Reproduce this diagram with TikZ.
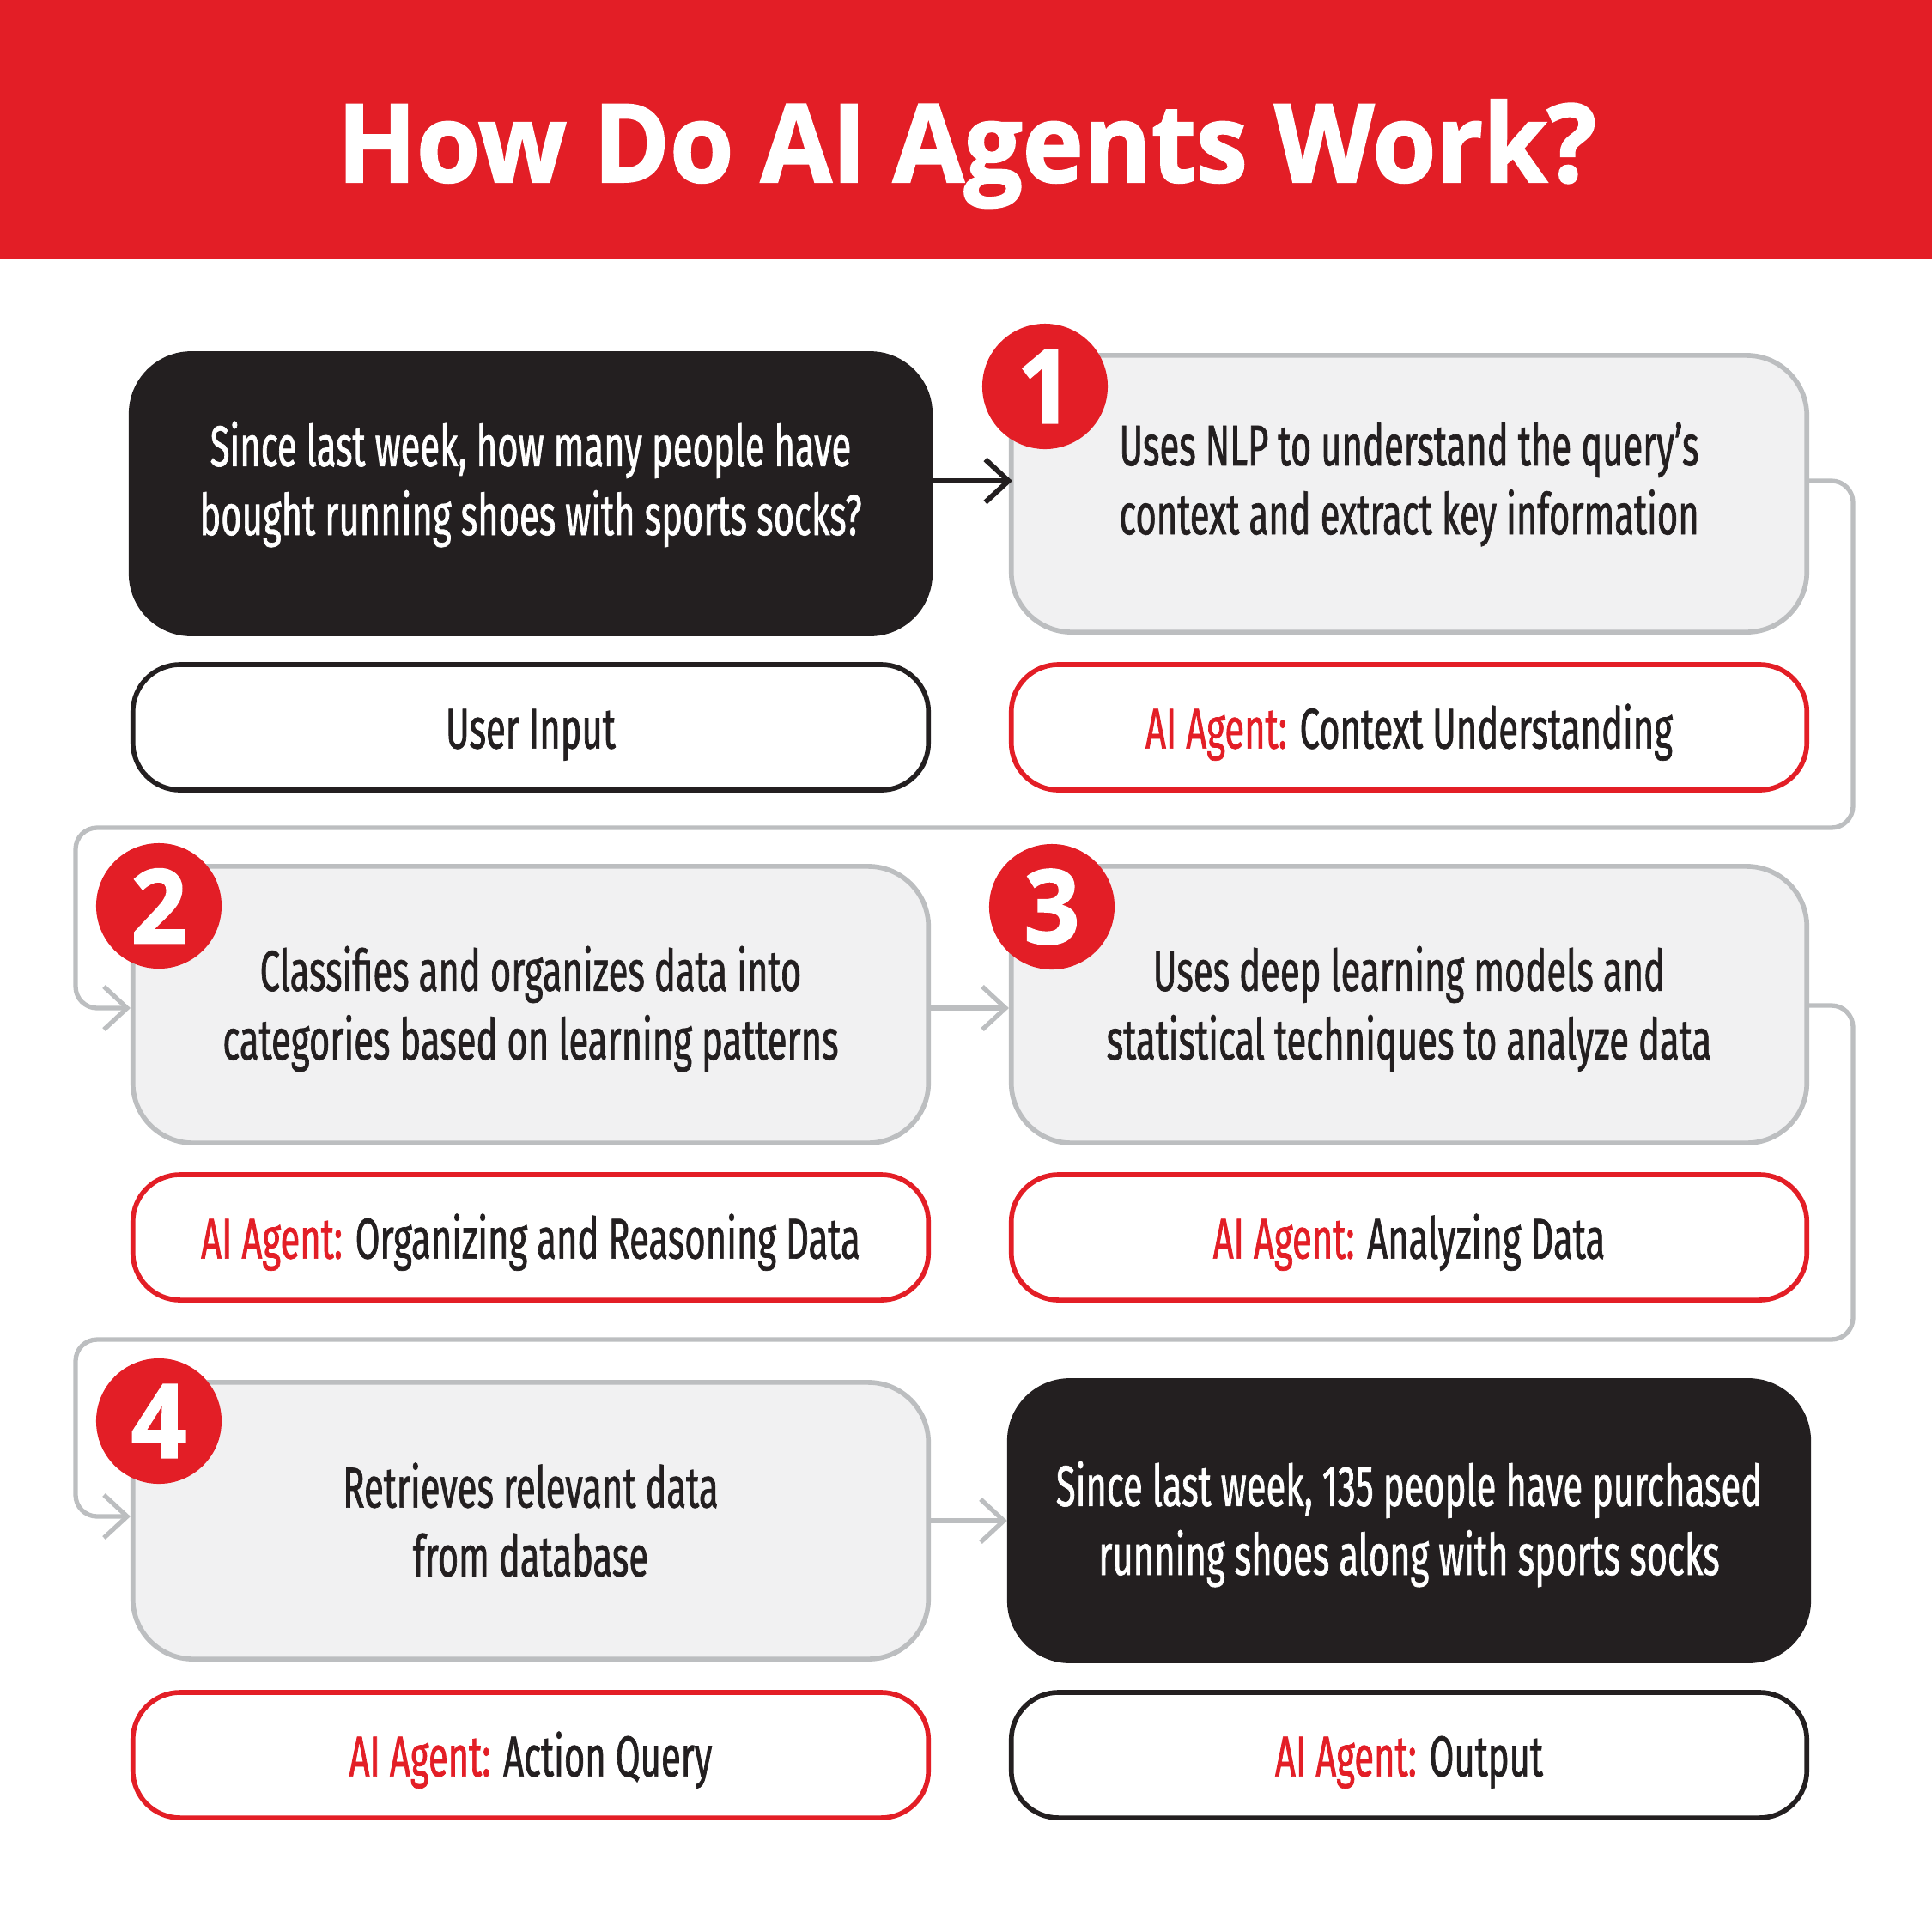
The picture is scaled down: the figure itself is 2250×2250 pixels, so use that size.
\documentclass[tikz,border=0pt]{standalone}
\usepackage{fontspec}
\usetikzlibrary{arrows.meta}
\setmainfont{Open Sans}
\newfontfamily\condfont[FakeStretch=0.625,FakeBold=1.0]{Fira Sans}
\newfontfamily\headfont[FakeStretch=0.95,FakeBold=1.6]{Open Sans Bold}
\definecolor{agentred}{HTML}{E31E26}
\definecolor{agentink}{HTML}{231F20}
\definecolor{agentgray}{HTML}{BCBEC0}
\definecolor{agentpale}{HTML}{F1F1F2}
\tikzset{
	card/.style={minimum width=9.26cm, minimum height=3.22cm, rounded corners=0.7cm, line width=1.6pt},
	stepbox/.style={card, draw=agentgray, fill=agentpale},
	darkbox/.style={card, draw=agentink, fill=agentink, minimum width=9.3cm, minimum height=3.26cm},
	cardtext/.style={align=center, inner sep=0pt, text=agentink, font=\condfont\fontsize{19}{22.8}\selectfont},
	tagbox/.style={card, cardtext, minimum height=1.46cm, rounded corners=0.55cm, fill=white, text height=15pt, text depth=1pt},
	badge/.style={circle, fill=agentred, text=white, minimum size=1.46cm, inner sep=0pt, font=\headfont\fontsize{34}{34}\selectfont},
	flow/.style={line width=1.5pt, agentgray, -{Straight Barb[length=0.27cm, width=0.5cm]}},
	detour/.style={flow, rounded corners=0.25cm},
}
\newcommand{\agenttag}{\textcolor{agentred}{AI Agent:} }

\begin{document}
\begin{tikzpicture}[x=0.01cm, y=-0.01cm]% {{{ AGENTS
	\useasboundingbox (0,0) rectangle (2250,2250);
	\fill[agentred] (0,0) rectangle (2250,302);
	\node[anchor=base, text=white, font=\headfont\fontsize{36}{36}\selectfont] (title) at (1126,212) {How Do AI Agents Work?};

	\node[darkbox] (input) at (618,575) {};
	\node[cardtext, text=white] (inputtext) at (618,564) {Since last week, how many people have\\bought running shoes with sports socks?};
	\node[tagbox, draw=agentink] (inputtag) at (618,847) {User Input};
	\node[stepbox] (context) at (1641,575) {};
	\node[cardtext] (contexttext) at (1641,564) {Uses NLP to understand the query’s\\context and extract key information};
	\node[tagbox, draw=agentred] (contexttag) at (1641,847) {\agenttag Context Understanding};

	\node[stepbox] (organize) at (618,1170) {};
	\node[cardtext] (organizetext) at (618,1175) {Classifies and organizes data into\\categories based on learning patterns};
	\node[tagbox, draw=agentred] (organizetag) at (618,1441) {\agenttag Organizing and Reasoning Data};
	\node[stepbox] (analyze) at (1641,1170) {};
	\node[cardtext] (analyzetext) at (1641,1175) {Uses deep learning models and\\statistical techniques to analyze data};
	\node[tagbox, draw=agentred] (analyzetag) at (1641,1441) {\agenttag Analyzing Data};

	\node[stepbox] (query) at (618,1771) {};
	\node[cardtext] (querytext) at (618,1770) {Retrieves relevant data\\from database};
	\node[tagbox, draw=agentred] (querytag) at (618,2044) {\agenttag Action Query};
	\node[darkbox] (answer) at (1641,1771) {};
	\node[cardtext, text=white] (answertext) at (1641,1775) {Since last week, 135 people have purchased\\running shoes along with sports socks};
	\node[tagbox, draw=agentink] (answertag) at (1641,2044) {\agenttag Output};

	\coordinate (rowa) at (0,560);
	\coordinate (rowb) at (0,1174);
	\coordinate (rowc) at (0,1771);
	\coordinate (backa) at (0,1171);
	\coordinate (backb) at (0,1766);
	\coordinate (sidel) at (88,0);
	\coordinate (sider) at (2158,0);
	\coordinate (crossa) at (0,964);
	\coordinate (crossb) at (0,1560);

	\draw[flow, agentink, line width=1.7pt, shorten >=-0.04cm] (input.east |- rowa) -- (context.west |- rowa);
	\draw[flow] (organize.east |- rowb) -- (analyze.west |- rowb);
	\draw[flow] (query.east |- rowc) -- (answer.west |- rowc);
	\draw[detour] (context.east |- rowa) -- (sider |- rowa) -- (sider |- crossa) -- (sidel |- crossa) -- (sidel |- rowb) -- (organize.west |- rowb);
	\draw[detour] (analyze.east |- backa) -- (sider |- backa) -- (sider |- crossb) -- (sidel |- crossb) -- (sidel |- backb) -- (query.west |- backb);

	\node[badge] (one) at (1217,450) {1};
	\node[badge] (two) at (185,1055) {2};
	\node[badge] (three) at (1225,1056) {3};
	\node[badge] (four) at (185,1655) {4};
\end{tikzpicture}% }}}
\end{document}
